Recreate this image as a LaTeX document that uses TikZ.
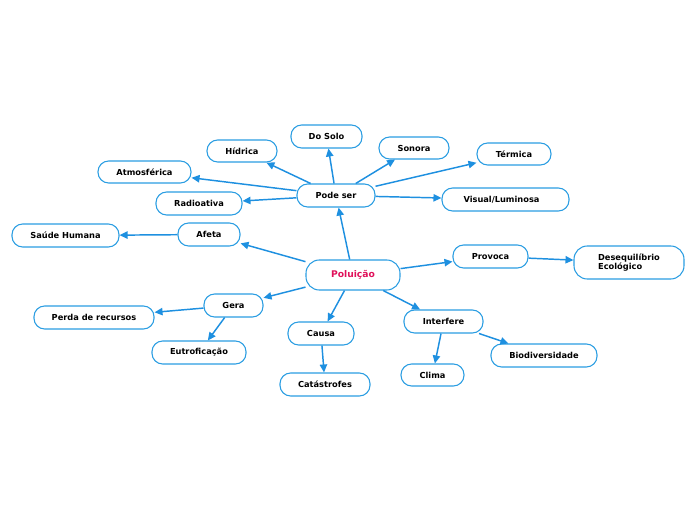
\documentclass[tikz,border=0pt]{standalone}
\usepackage{fontspec}
\setmainfont{DejaVu Sans}
\usetikzlibrary{arrows.meta}
\definecolor{edgeblue}{HTML}{1E90E0}
\definecolor{boxblue}{HTML}{2A9DE2}
\definecolor{rootred}{HTML}{E0105A}
\tikzset{
  box/.style={draw=boxblue, line width=0.8pt, rounded corners=8pt, fill=white,
    inner sep=0pt, font=\fontsize{6.2}{7.2}\selectfont\bfseries, text=black,
    minimum height=17.25pt},
  rootbox/.style={box, rounded corners=10pt, minimum height=22.5pt, minimum width=70.5pt, text=rootred,
    font=\fontsize{6.9}{8}\selectfont\bfseries},
  arr/.style={draw=edgeblue, line width=1.1pt, -{Triangle[length=6pt,width=5.5pt]}}
}
\begin{document}
\begin{tikzpicture}[x=0.75pt,y=-0.75pt]
\useasboundingbox (0,0) rectangle (696,520);
\node[rootbox] (pol) at (353,275) {Poluição};
\node[box, minimum width=58.5pt] (pode) at (336,195.5) {Pode ser};
\node[box, minimum width=53.25pt] (solo) at (326.5,136.5) {Do Solo};
\node[box, minimum width=52.5pt, minimum height=16.5pt] (hid) at (242,151) {Hídrica};
\node[box, minimum width=52.5pt, minimum height=16.5pt] (son) at (414,148) {Sonora};
\node[box, minimum width=55.5pt, minimum height=16.5pt] (ter) at (514,154) {Térmica};
\node[box, minimum width=69.75pt, minimum height=16.5pt] (atm) at (144.5,172) {Atmosférica};
\node[box, minimum width=64.5pt] (rad) at (199,203.5) {Radioativa};
\node[box, minimum width=95.25pt] (vis) at (505.5,199.5) {\hspace*{-6pt}Visual/Luminosa};
\node[box, minimum width=46.5pt] (afe) at (209,234.5) {Afeta};
\node[box, minimum width=80.25pt] (sau) at (65.5,235.5) {Saúde Humana};
\node[box, minimum width=56.25pt] (pro) at (490.5,256.5) {Provoca};
\node[box, minimum width=82.5pt, minimum height=24.75pt, rounded corners=10pt, align=left] (des) at (629,262.5) {Desequilíbrio\\Ecológico};
\node[box, minimum width=44.25pt] (ger) at (233.5,305.5) {Gera};
\node[box, minimum width=90pt] (per) at (94,317.5) {Perda de recursos};
\node[box, minimum width=70.5pt] (eut) at (199,352.5) {Eutroficação};
\node[box, minimum width=49.5pt] (cau) at (321,333.5) {Causa};
\node[box, minimum width=67.5pt] (cat) at (325,384.5) {Catástrofes};
\node[box, minimum width=59.25pt] (int) at (443.5,321.5) {Interfere};
\node[box, minimum width=47.25pt, minimum height=16.5pt] (cli) at (432.5,375) {Clima};
\node[box, minimum width=79.5pt] (bio) at (544,355.5) {Biodiversidade};
\draw[arr] (pol) -- (pode);
\draw[arr] (pol) -- (afe);
\draw[arr] (pol) -- (ger);
\draw[arr] (pol) -- (cau);
\draw[arr] (pol) -- (int);
\draw[arr] (pol) -- (pro);
\draw[arr] (pode) -- (solo);
\draw[arr] (pode) -- (hid);
\draw[arr] (pode) -- (son);
\draw[arr] (pode) -- (ter);
\draw[arr] (pode) -- (atm);
\draw[arr] (pode) -- (rad);
\draw[arr] (pode) -- (vis);
\draw[arr] (afe) -- (sau);
\draw[arr] (ger) -- (per);
\draw[arr] (ger) -- (eut);
\draw[arr] (cau) -- (cat);
\draw[arr] (int) -- (cli);
\draw[arr] (int) -- (bio);
\draw[arr] (pro) -- (des);
\end{tikzpicture}
\end{document}
